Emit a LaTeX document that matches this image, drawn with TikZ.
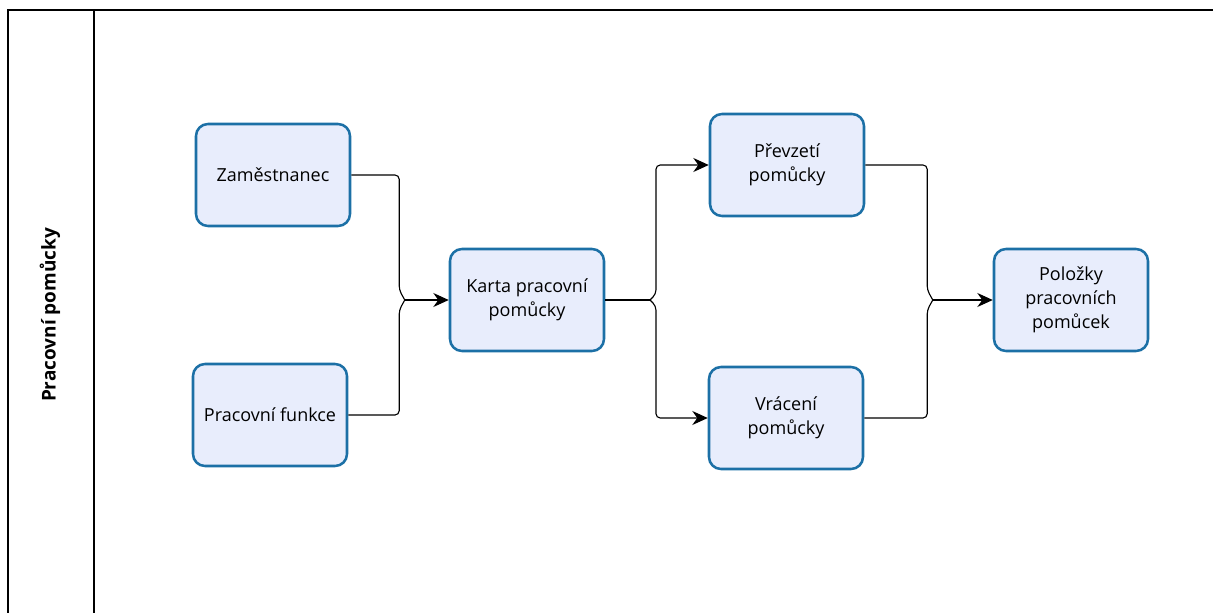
\documentclass[tikz,border=0pt]{standalone}
\usepackage{fontspec}
\setmainfont{Open Sans}
\usetikzlibrary{arrows.meta}

\definecolor{boxline}{RGB}{28,112,166}
\definecolor{boxfill}{RGB}{232,237,252}

\tikzset{
  entity/.style={draw=boxline, fill=boxfill, line width=1.8pt,
    rounded corners=0.3cm, minimum width=3.85cm, minimum height=2.55cm,
    align=center, font=\fontsize{12.8}{17}\selectfont},
  link/.style={line width=0.8pt, rounded corners=3pt},
  tip/.style={-{Stealth[length=11pt,width=10pt]}}
}

\begin{document}
\begin{tikzpicture}
\useasboundingbox (0,0) rectangle (30.325,-15.325);

% lane frame
\draw[line width=1.2pt] (30.325,-0.25)--(0.2,-0.25)--(0.2,-15.325);
\draw[line width=1.2pt] (2.35,-0.25)--(2.35,-15.325);
\node[rotate=90, font=\bfseries\fontsize{13.5}{15}\selectfont] (lane) at (1.25,-7.875) {Pracovní pomůcky};

% entities
\node[entity] (zam) at (6.825,-4.375) {Zaměstnanec};
\node[entity] (fun) at (6.75,-10.375) {Pracovní funkce};
\node[entity] (karta) at (13.175,-7.5) {Karta pracovní\\pomůcky};
\node[entity] (prev) at (19.675,-4.125) {Převzetí\\pomůcky};
\node[entity] (vrac) at (19.65,-10.45) {Vrácení\\pomůcky};
\node[entity] (pol) at (26.775,-7.5) {Položky\\pracovních\\pomůcek};

% junctions
\coordinate (j1) at (10.12,-7.5);
\coordinate (j2) at (16.25,-7.5);
\coordinate (j3) at (23.32,-7.5);

\draw[link] (zam.east) -| (9.98,-7.25) -- (j1);
\draw[link] (fun.east) -| (9.98,-7.75) -- (j1);
\draw[link, tip] (j1) -- (karta.west);

\draw[link] (karta.east) -- (j2);
\draw[link, tip] (j2) -- (16.4,-7.35) |- (prev.west);
\draw[link, tip] (j2) -- (16.4,-7.65) |- (vrac.west);

\draw[link] (prev.east) -| (23.18,-7.25) -- (j3);
\draw[link] (vrac.east) -| (23.18,-7.75) -- (j3);
\draw[link, tip] (j3) -- (pol.west);

\end{tikzpicture}
\end{document}
